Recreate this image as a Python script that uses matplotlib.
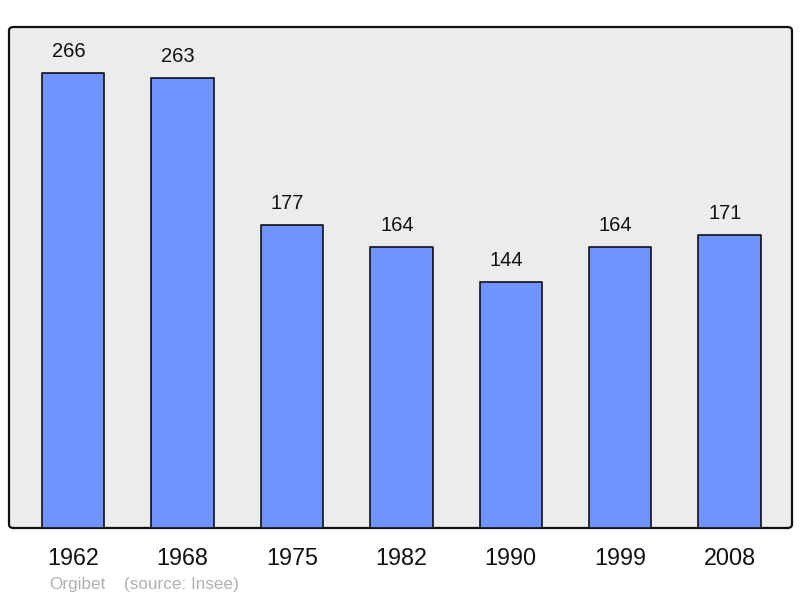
import matplotlib.pyplot as plt
from matplotlib.patches import FancyBboxPatch
import numpy as np

plt.rcParams['font.family'] = ['Liberation Sans', 'DejaVu Sans']

years = ['1962', '1968', '1975', '1982', '1990', '1999', '2008']
population = [266, 263, 177, 164, 144, 164, 171]

fig = plt.figure(figsize=(8, 5.98), dpi=100)

# background panel with rounded corners
panel = FancyBboxPatch((9 / 800, 70 / 598), 783 / 800, 501 / 598,
                       boxstyle='round,pad=0,rounding_size=0.006',
                       transform=fig.transFigure, facecolor='#ececec',
                       edgecolor='#111111', linewidth=1.6, zorder=0)
fig.patches.append(panel)

ax = fig.add_axes([9 / 800, 70 / 598, 783 / 800, 501 / 598], zorder=2)
ax.set_facecolor('none')

x = np.arange(len(years))
bars = ax.bar(x, population, width=0.57, color='#7094ff',
              edgecolor='#111111', linewidth=1.2, zorder=2)
for b in bars:
    b.set_joinstyle('round')

for xi, v in zip(x, population):
    ax.annotate(str(v), (xi, v), xytext=(-3.2, 15.5), textcoords='offset points',
                ha='center', va='center', fontsize=14.5, color='#111111')

ax.set_xlim(-0.585, 6.57)
ax.set_ylim(0, 292.8)
for s in ax.spines.values():
    s.set_visible(False)
ax.set_yticks([])
ax.set_xticks(x)
ax.set_xticklabels(years, fontsize=16.8, color='#111111')
ax.tick_params(axis='x', length=0, pad=14)

fig.text(49 / 800, 1 - 584 / 598, 'Orgibet', fontsize=12.3, color='#b0b0b0',
         ha='left', va='center')
fig.text(124 / 800, 1 - 584 / 598, '(source: Insee)', fontsize=12.3,
         color='#b0b0b0', ha='left', va='center')

fig.savefig('out.png', dpi=100)
